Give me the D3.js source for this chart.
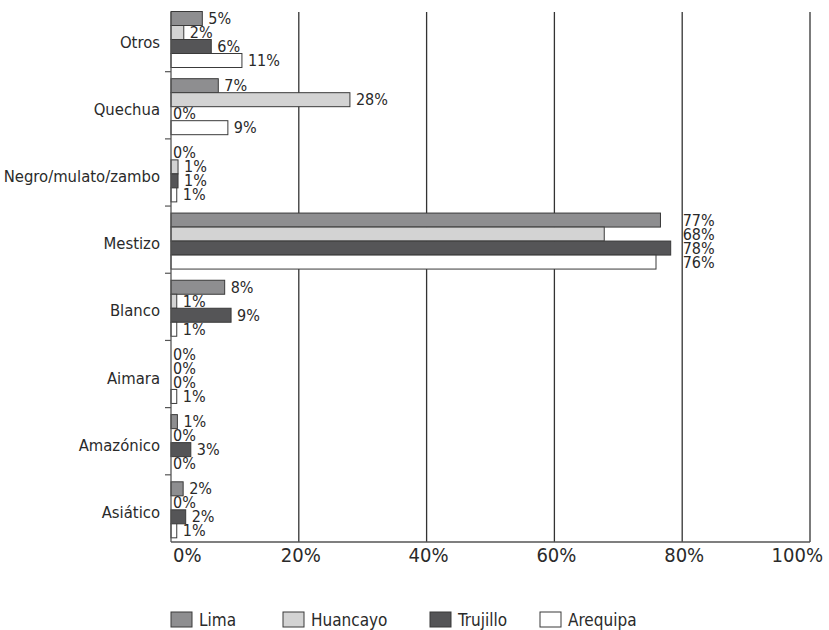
<!DOCTYPE html>
<html>
<head>
<meta charset="utf-8">
<script src="https://cdn.jsdelivr.net/npm/d3@7"></script>
<style>
  body { margin: 0; background: #fff; }
  text { font-family: "DejaVu Sans", sans-serif; font-stretch: condensed; fill: #2a2a2a; }
</style>
</head>
<body>
<div id="drawing"></div>
<script>
// data
const categories = ["Otros", "Quechua", "Negro/mulato/zambo", "Mestizo", "Blanco", "Aimara", "Amazónico", "Asiático"];
const series = ["Lima", "Huancayo", "Trujillo", "Arequipa"];
const lima     = [4.9, 7.4, 0,   76.6, 8.4, 0,   1.0, 1.9];
const huancayo = [2.0, 28.0, 1.1, 67.8, 0.9, 0,   0,   0];
const trujillo = [6.3, 0,   1.1, 78.2, 9.4, 0,   3.1, 2.3];
const arequipa = [11.1, 8.9, 0.9, 75.9, 0.9, 0.9, 0,   0.9];
const xTicks = [0, 20, 40, 60, 80, 100];
const colors = ["#8e8e90", "#d3d3d3", "#555557", "#ffffff"];

const width = 829;
const height = 630;
const plot = {left: 171, right: 810, top: 12, bandTop: 4.5, bottom: 542};

const values = [lima, huancayo, trujillo, arequipa];
const rows = categories.map((c, i) => ({
  cat: c,
  vals: series.map((s, j) => ({series: s, idx: j, v: values[j][i]}))
}));

const svg = d3.select("#drawing").append("svg")
  .attr("width", width)
  .attr("height", height);

const xScale = d3.scaleLinear().domain([0, 100]).range([plot.left, plot.right]);
const yScale = d3.scaleBand().domain(categories).range([plot.bandTop, plot.bottom]).padding(0);
const ySub = d3.scaleBand().domain(series).range([7, 63]).padding(0);

// gridlines
svg.append("g").selectAll("line")
  .data(xTicks.slice(1))
  .join("line")
  .attr("x1", d => xScale(d)).attr("x2", d => xScale(d))
  .attr("y1", plot.top).attr("y2", plot.bottom)
  .style("stroke", "#333").style("stroke-width", 1.3);

// bars
const groups = svg.append("g").selectAll("g")
  .data(rows)
  .join("g")
  .attr("transform", d => `translate(0, ${yScale(d.cat)})`);

groups.selectAll("rect")
  .data(d => d.vals.filter(e => e.v > 0))
  .join("rect")
  .attr("x", xScale(0))
  .attr("y", d => ySub(d.series))
  .attr("width", d => xScale(d.v) - xScale(0))
  .attr("height", ySub.bandwidth())
  .style("fill", d => colors[d.idx])
  .style("stroke", "#3a3a3a")
  .style("stroke-width", 1);

// value labels
groups.each(function(row){
  const maxV = d3.max(row.vals, d => d.v);
  d3.select(this).selectAll("text")
    .data(row.vals)
    .join("text")
    .attr("x", d => maxV > 50 ? xScale(maxV) + 12 : xScale(d.v) + (d.v > 0 ? 6 : 2))
    .attr("y", d => ySub(d.series) + ySub.bandwidth() / 2 + 1)
    .attr("dominant-baseline", "middle")
    .style("font-size", "16px")
    .text(d => Math.round(d.v) + "%");
});

// axes
svg.append("line")
  .attr("x1", xScale(0)).attr("x2", xScale(0))
  .attr("y1", plot.top).attr("y2", plot.bottom)
  .style("stroke", "#555").style("stroke-width", 1.3);
svg.append("line")
  .attr("x1", xScale(0)).attr("x2", xScale(100))
  .attr("y1", plot.bottom).attr("y2", plot.bottom)
  .style("stroke", "#555").style("stroke-width", 1.3);

// left tick marks at category boundaries
svg.append("g").selectAll("line")
  .data(categories.slice(1))
  .join("line")
  .attr("x1", xScale(0) - 6).attr("x2", xScale(0))
  .attr("y1", d => yScale(d)).attr("y2", d => yScale(d))
  .style("stroke", "#555").style("stroke-width", 1.2);

// category labels
svg.append("g").selectAll("text")
  .data(categories)
  .join("text")
  .attr("x", xScale(0) - 11)
  .attr("y", d => yScale(d) + yScale.bandwidth() / 2 + 5)
  .attr("text-anchor", "end")
  .attr("dominant-baseline", "middle")
  .style("font-size", "16.5px")
  .text(d => d);

// x tick labels
svg.append("g").selectAll("text")
  .data(xTicks)
  .join("text")
  .attr("x", (d, i) => i === 0 ? xScale(d) + 2 : i === xTicks.length - 1 ? xScale(d) + 13 : xScale(d) + 2)
  .attr("y", 556)
  .attr("text-anchor", (d, i) => i === 0 ? "start" : i === xTicks.length - 1 ? "end" : "middle")
  .attr("dominant-baseline", "middle")
  .style("font-size", "20px")
  .text(d => d + "%");

// legend
const legendX = [171, 283, 430, 540];
const legend = svg.append("g").selectAll("g")
  .data(series)
  .join("g")
  .attr("transform", (d, i) => `translate(${legendX[i]}, 612)`);
legend.append("rect")
  .attr("width", 21).attr("height", 15)
  .style("fill", (d, i) => colors[i])
  .style("stroke", "#3a3a3a").style("stroke-width", 1);
legend.append("text")
  .attr("x", 28).attr("y", 8.5)
  .attr("dominant-baseline", "middle")
  .style("font-size", "17px")
  .text(d => d);
</script>
</body>
</html>
